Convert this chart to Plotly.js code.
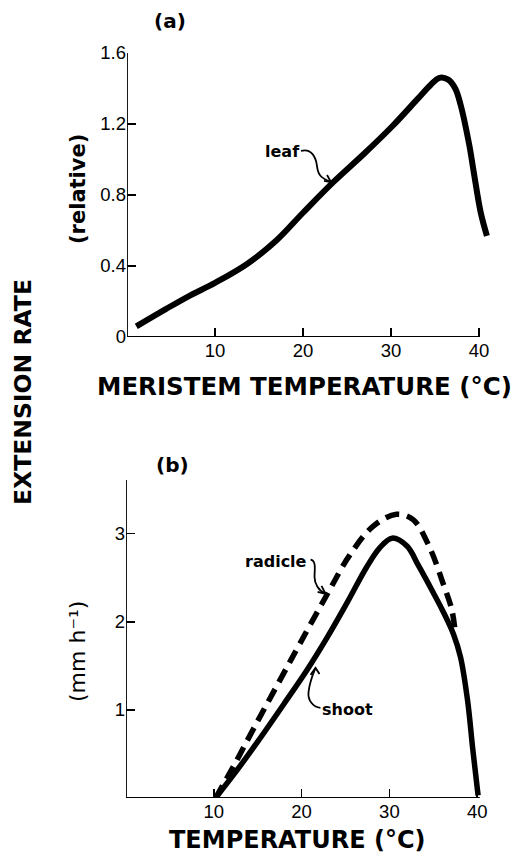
<!DOCTYPE html>
<html>
<head>
<meta charset="utf-8">
<script src="https://cdn.plot.ly/plotly-3.0.1.min.js"></script>
<style>html,body{margin:0;padding:0;background:#fff;}#chart{width:514px;height:857px;}</style>
</head>
<body>
<div id="chart"></div>
<script>
// Panel (a): leaf extension rate (relative) vs meristem temperature
const leafTemp = [1.06, 4.5, 7.2, 10, 13.6, 17, 20, 23.5, 27, 30.2, 33, 34.5, 35.5, 36.5, 37.3, 37.9, 38.9, 39.4, 40.2, 40.9];
const leafRate = [0.06, 0.16, 0.235, 0.305, 0.41, 0.545, 0.70, 0.875, 1.035, 1.19, 1.34, 1.42, 1.46, 1.45, 1.40, 1.31, 1.08, 0.93, 0.70, 0.57];

// Panel (b): shoot and radicle extension rate (mm h-1) vs temperature
const shootTemp = [10.2, 12.3, 15.0, 18.0, 20.6, 22.9, 25.2, 27.4, 28.9, 30.3, 32.0, 33.3, 35.0, 36.1, 37.3, 38.1, 38.9, 39.5, 40.1];
const shootRate = [0.0, 0.27, 0.64, 1.07, 1.45, 1.82, 2.22, 2.62, 2.84, 2.95, 2.86, 2.64, 2.33, 2.12, 1.86, 1.60, 1.11, 0.55, 0.03];
const radicleTemp = [10.2, 12.3, 14.6, 17.6, 19.9, 22.9, 25.5, 28.2, 30.8, 32.7, 34.6, 36.1, 37.1, 37.5];
const radicleRate = [0.0, 0.37, 0.80, 1.35, 1.77, 2.31, 2.76, 3.09, 3.22, 3.16, 2.84, 2.44, 2.14, 1.88];

// Tick labels
const xTickVals = [10, 20, 30, 40];
const xTickText = ['10', '20', '30', '40'];
const yTickValsA = [0, 0.4, 0.8, 1.2, 1.6];
const yTickTextA = ['0', '0.4', '0.8', '1.2', '1.6'];
const yTickValsB = [1, 2, 3];
const yTickTextB = ['1', '2', '3'];

const W = 514, H = 857;
const px = v => v / W;
const py = v => 1 - v / H;

const tickFont = {family: 'Liberation Sans, Arial, sans-serif', size: 18.5, color: '#000'};
const boldFont = {family: 'DejaVu Sans, sans-serif', size: 24.5, color: '#000', weight: 'bold'};
const labelFont = {family: 'DejaVu Sans, sans-serif', size: 16, color: '#000', weight: 'bold'};

const traces = [
  {x: leafTemp, y: leafRate, xaxis: 'x', yaxis: 'y', mode: 'lines', name: 'leaf',
   line: {color: '#000', width: 6, shape: 'spline', smoothing: 1}},
  {x: radicleTemp, y: radicleRate, xaxis: 'x2', yaxis: 'y2', mode: 'lines', name: 'radicle',
   line: {color: '#000', width: 5.5, dash: '14px,8px', shape: 'spline', smoothing: 1}},
  {x: shootTemp, y: shootRate, xaxis: 'x2', yaxis: 'y2', mode: 'lines', name: 'shoot',
   line: {color: '#000', width: 5.5, shape: 'spline', smoothing: 1}}
];

const axisCommon = {showgrid: false, zeroline: false, showline: false, ticks: 'inside',
  ticklen: 9, tickwidth: 1.5, tickcolor: '#000', tickfont: tickFont, fixedrange: true};

const layout = {
  width: W, height: H,
  margin: {l: 0, r: 0, t: 0, b: 0},
  paper_bgcolor: '#fff', plot_bgcolor: 'rgba(0,0,0,0)',
  showlegend: false,
  xaxis: Object.assign({}, axisCommon, {domain: [px(127), px(127 + 41.5 * 8.8)], range: [0, 41.5],
    tickvals: xTickVals, ticktext: xTickText, anchor: 'y'}),
  yaxis: Object.assign({}, axisCommon, {domain: [py(337), py(53)], range: [0, 1.6],
    tickvals: yTickValsA, ticktext: yTickTextA, anchor: 'x'}),
  xaxis2: Object.assign({}, axisCommon, {domain: [px(126), px(126 + 41.5 * 8.78)], range: [0, 41.5],
    tickvals: xTickVals, ticktext: xTickText, anchor: 'y2'}),
  yaxis2: Object.assign({}, axisCommon, {domain: [py(798), py(480)], range: [0, 3.61],
    tickvals: yTickValsB, ticktext: yTickTextB, anchor: 'x2'}),
  shapes: [
    // axis lines
    {type: 'line', xref: 'x', yref: 'y', x0: 0, x1: 40.1, y0: 0, y1: 0, line: {color: '#000', width: 1.8}},
    {type: 'line', xref: 'x', yref: 'y', x0: 0, x1: 0, y0: 0, y1: 1.6, line: {color: '#000', width: 1.8}},
    {type: 'line', xref: 'x2', yref: 'y2', x0: 0, x1: 40.3, y0: 0, y1: 0, line: {color: '#000', width: 1.8}},
    {type: 'line', xref: 'x2', yref: 'y2', x0: 0, x1: 0, y0: 0, y1: 3.61, line: {color: '#000', width: 1.8}},
    // leaf pointer
    {type: 'path', xref: 'x', yref: 'y', line: {color: '#000', width: 1.8},
     path: 'M 19.77 1.048 C 21.02 1.065 21.48 1.008 21.59 0.963 S 21.93 0.896 23.18 0.873'},
    {type: 'path', xref: 'x', yref: 'y', line: {color: '#000', width: 1.8},
     path: 'M 22.39 0.879 L 23.18 0.873 L 22.73 0.913'},
    // radicle pointer
    {type: 'path', xref: 'x2', yref: 'y2', line: {color: '#000', width: 1.8},
     path: 'M 21.02 2.705 C 21.70 2.693 21.47 2.591 21.47 2.511 S 21.93 2.352 22.72 2.318'},
    {type: 'path', xref: 'x2', yref: 'y2', line: {color: '#000', width: 1.8},
     path: 'M 21.82 2.341 L 22.72 2.318 L 22.27 2.409'},
    // shoot pointer
    {type: 'path', xref: 'x2', yref: 'y2', line: {color: '#000', width: 1.8},
     path: 'M 22.15 1.023 C 21.25 1.034 20.68 1.114 20.79 1.205 S 21.25 1.398 21.59 1.477'},
    {type: 'path', xref: 'x2', yref: 'y2', line: {color: '#000', width: 1.8},
     path: 'M 21.02 1.398 L 21.59 1.477 L 22.04 1.409'}
  ],
  annotations: [
    {text: '(a)', xref: 'paper', yref: 'paper', x: px(170), y: py(21), showarrow: false,
     xanchor: 'center', yanchor: 'middle', font: {family: 'DejaVu Sans, sans-serif', size: 20, color: '#000', weight: 'bold'}},
    {text: '(b)', xref: 'paper', yref: 'paper', x: px(172), y: py(465), showarrow: false,
     xanchor: 'center', yanchor: 'middle', font: {family: 'DejaVu Sans, sans-serif', size: 20, color: '#000', weight: 'bold'}},
    {text: 'MERISTEM TEMPERATURE (°C)', xref: 'paper', yref: 'paper', x: px(304), y: py(387), showarrow: false,
     xanchor: 'center', yanchor: 'middle', font: boldFont},
    {text: 'TEMPERATURE (°C)', xref: 'paper', yref: 'paper', x: px(297), y: py(840), showarrow: false,
     xanchor: 'center', yanchor: 'middle', borderpad: 0, font: {family: 'DejaVu Sans, sans-serif', size: 24, color: '#000', weight: 'bold'}},
    {text: 'EXTENSION RATE', xref: 'paper', yref: 'paper', x: px(23), y: py(392), showarrow: false, textangle: -90,
     xanchor: 'center', yanchor: 'middle', font: {family: 'DejaVu Sans, sans-serif', size: 23.5, color: '#000', weight: 'bold'}},
    {text: '(relative)', xref: 'paper', yref: 'paper', x: px(78), y: py(189), showarrow: false, textangle: -90,
     xanchor: 'center', yanchor: 'middle', font: {family: 'DejaVu Sans, sans-serif', size: 21, color: '#000', weight: 'bold'}},
    {text: '(mm h⁻¹)', xref: 'paper', yref: 'paper', x: px(77), y: py(652), showarrow: false, textangle: -90,
     xanchor: 'center', yanchor: 'middle', font: {family: 'DejaVu Sans, sans-serif', size: 22, color: '#000'}},
    {text: 'leaf', xref: 'paper', yref: 'paper', x: px(282), y: py(151), showarrow: false,
     xanchor: 'center', yanchor: 'middle', font: labelFont},
    {text: 'radicle', xref: 'paper', yref: 'paper', x: px(276), y: py(561), showarrow: false,
     xanchor: 'center', yanchor: 'middle', font: labelFont},
    {text: 'shoot', xref: 'paper', yref: 'paper', x: px(347), y: py(709), showarrow: false,
     xanchor: 'center', yanchor: 'middle', font: labelFont}
  ]
};

Plotly.newPlot('chart', traces, layout, {staticPlot: true, displayModeBar: false});
</script>
</body>
</html>
